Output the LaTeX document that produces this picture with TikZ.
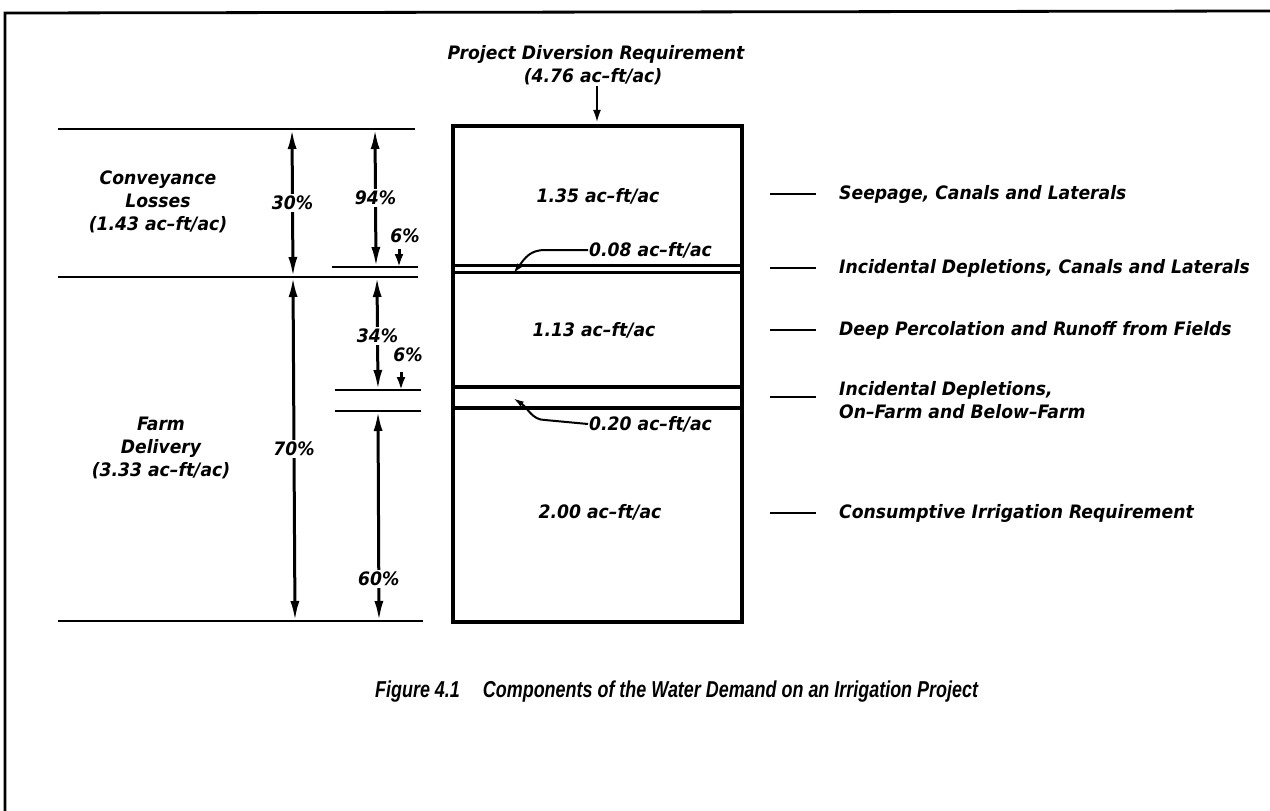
\documentclass[tikz,border=0pt]{standalone}
\usepackage{fontspec}
\setmainfont[FakeStretch=0.93]{DejaVu Sans}
\newfontfamily\capfont[FakeStretch=0.78]{Liberation Sans}
\usetikzlibrary{arrows.meta}
\tikzset{
  lbl/.style={font=\fontsize{18.5}{23}\selectfont\bfseries\itshape, inner sep=1pt},
  pct/.style={font=\fontsize{18.5}{23}\selectfont\bfseries\itshape, inner sep=2pt, fill=white},
  rline/.style={line width=2.8pt},
  dimarrow/.style={line width=3pt, {Latex[length=20pt,width=9pt]}-{Latex[length=20pt,width=9pt]}},
  stub/.style={line width=3pt, -{Latex[length=13pt,width=9pt]}},
  leader/.style={line width=2pt, -{Latex[length=11pt,width=6pt]}},
  dashmark/.style={line width=2.2pt},
}
\begin{document}
\begin{tikzpicture}[x=1pt,y=-1pt]
\useasboundingbox (0,0) rectangle (1270,811);
% frame
\draw[line width=2.8pt] (5,811) -- (5,13) -- (1270,11);

% title and top arrow
\node[lbl] (title1) at (596,54) {Project Diversion Requirement};
\node[lbl] (title2) at (593,77) {(4.76 ac--ft/ac)};
\coordinate (topin) at (597,86);

% main box
\node[draw, line width=4.5pt, minimum width=289pt, minimum height=496pt, inner sep=0pt] (box) at (597.5,374) {};
\draw[line width=2.8pt, -{Latex[length=14pt,width=8pt]}] (topin) -- (box.north -| topin);

% inner lines of the box
\draw[line width=3pt] (box.west |- 0,265) -- (box.east |- 0,265);
\draw[line width=3pt] (box.west |- 0,272) -- (box.east |- 0,272);
\draw[line width=4pt] (box.west |- 0,387) -- (box.east |- 0,387);
\draw[line width=4pt] (box.west |- 0,408) -- (box.east |- 0,408);

% box texts
\node[lbl] (v135) at (598,196) {1.35 ac--ft/ac};
\node[lbl] (v113) at (594,330) {1.13 ac--ft/ac};
\node[lbl] (v200) at (600,512) {2.00 ac--ft/ac};
\node[lbl, anchor=west] (v008) at (588,250) {0.08 ac--ft/ac};
\node[lbl, anchor=west] (v020) at (588,424) {0.20 ac--ft/ac};
\coordinate (p008) at (513,274);
\coordinate (p020) at (513,398);
\draw[leader] (v008.west) -- (545,250) .. controls (530,250) and (525,258) .. (p008);
\draw[leader] (v020.west) -- (545,420) .. controls (532,420) and (528,408) .. (p020);

% left horizontal lines
\coordinate (L1a) at (58,129);  \coordinate (L1b) at (415,129);
\coordinate (L2a) at (58,277);  \coordinate (L2b) at (418,277);
\coordinate (L3a) at (58,621);  \coordinate (L3b) at (423,621);
\coordinate (S1a) at (332,267); \coordinate (S1b) at (418,267);
\coordinate (S2a) at (335,390); \coordinate (S2b) at (421,390);
\coordinate (S3a) at (335,411); \coordinate (S3b) at (421,411);
\foreach \a/\b in {L1a/L1b,L2a/L2b,L3a/L3b,S1a/S1b,S2a/S2b,S3a/S3b}
  \draw[rline] (\a) -- (\b);

% dimension arrows
\coordinate (d30a) at (292,129); \coordinate (d30b) at (293,277);
\coordinate (d70a) at (293,277); \coordinate (d70b) at (295,621);
\coordinate (d94a) at (375,129); \coordinate (d94b) at (376,267);
\coordinate (d34a) at (377,277); \coordinate (d34b) at (378,390);
\coordinate (d60a) at (378,411); \coordinate (d60b) at (379,621);
\draw[dimarrow] (d30a) -- node[pct] (t30) {30\%} (d30b);
\draw[dimarrow] (d70a) -- node[pct] (t70) {70\%} (d70b);
\draw[dimarrow] (d94a) -- node[pct, pos=0.5] (t94) {94\%} (d94b);
\draw[dimarrow] (d34a) -- node[pct, pos=0.52] (t34) {34\%} (d34b);
\draw[dimarrow] (d60a) -- node[pct, pos=0.8] (t60) {60\%} (d60b);

% 6% stubs
\coordinate (s6a) at (399,249); \coordinate (s6b) at (399,267);
\coordinate (s6c) at (401,372); \coordinate (s6d) at (401,390);
\draw[stub] (s6a) -- (s6b);
\draw[stub] (s6c) -- (s6d);
\node[pct] (t6a) at (405,236) {6\%};
\node[pct] (t6b) at (408,355) {6\%};

% left group labels
\node[lbl, align=center] (conv) at (158,202) {Conveyance\\Losses\\(1.43 ac--ft/ac)};
\node[lbl, align=center] (farm) at (161,448) {Farm\\Delivery\\(3.33 ac--ft/ac)};

% right labels with dashes
\node[lbl, anchor=west] (r1) at (838,194) {Seepage, Canals and Laterals};
\node[lbl, anchor=west] (r2) at (838,268) {Incidental Depletions, Canals and Laterals};
\node[lbl, anchor=west] (r3) at (838,330) {Deep Percolation and Runoff from Fields};
\node[lbl, anchor=west, align=left] (r4) at (838,400) {Incidental Depletions,\\On--Farm and Below--Farm};
\node[lbl, anchor=west] (r5) at (838,513) {Consumptive Irrigation Requirement};
\foreach \n/\y in {1/194,2/268,3/330,4/397,5/513}{
  \coordinate (ra\n) at (770,\y);
  \coordinate (rb\n) at (816,\y);
  \draw[dashmark] (ra\n) -- (rb\n);
}

% caption
\node[font=\capfont\bfseries\itshape\fontsize{23}{26}\selectfont, anchor=west, inner sep=0pt] (cap) at (375,692)
  {Figure 4.1\quad Components of the Water Demand on an Irrigation Project};
\end{tikzpicture}
\end{document}
